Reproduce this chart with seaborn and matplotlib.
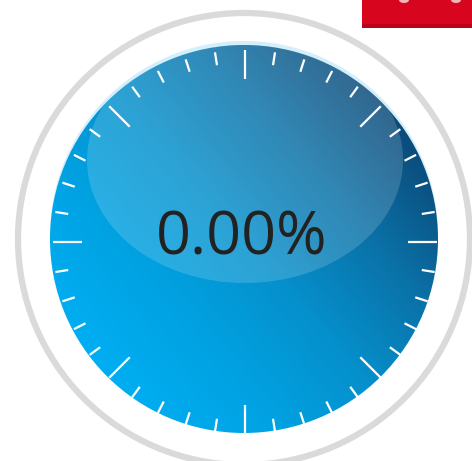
import numpy as np
import matplotlib.pyplot as plt
import seaborn as sns
from matplotlib.patches import Circle, Ellipse, Rectangle
from matplotlib.colors import LinearSegmentedColormap

sns.set_style("white")
plt.rcParams['font.family'] = ['Open Sans', 'DejaVu Sans']

# gauge data
gauge_value = [0.0]
tick_angles = list(range(0, 360, 9))   # 40 ticks round the dial
major_step = 45                         # long tick every 45 degrees
dial_colors = ["#00aef2", "#01a2e2", "#0590cc", "#0a72a8", "#0b4b7a"]

# geometry (pixel space)
cx, cy = 244, 239
r_disc = 194
r_ring = 226

fig = plt.figure(figsize=(4.72, 4.61), dpi=100)
ax = fig.add_axes([0, 0, 1, 1])

# outer grey ring
ax.add_patch(Circle((cx, cy), r_ring, fill=False, ec="#dadada", lw=4.5, zorder=1))

# light rim on top of the dial
ax.add_patch(Circle((cx, cy - 4), r_disc, fc="#d3effb", ec="none", zorder=1))

# dial with diagonal gradient (bright bottom-left, dark top-right)
disc = Circle((cx, cy), r_disc, fc="none", ec="none", zorder=2)
ax.add_patch(disc)
xs = np.linspace(cx - r_disc, cx + r_disc, 300)
ys = np.linspace(cy - r_disc, cy + r_disc, 300)
X, Y = np.meshgrid(xs, ys)
ang = np.radians(40)
t = ((X - cx) * np.cos(ang) - (Y - cy) * np.sin(ang)) / r_disc
t = np.clip((t + 1) / 2, 0, 1)
cmap = LinearSegmentedColormap.from_list("dial", dial_colors)
im = ax.imshow(t, cmap=cmap, extent=(xs[0], xs[-1], ys[-1], ys[0]),
               origin='upper', interpolation='bilinear', vmin=0, vmax=1,
               zorder=2)
im.set_clip_path(disc)

# glossy highlight
hl = Ellipse((cx + 1, 160), 316, 246, fc="white", ec="none", alpha=0.16, zorder=3)
ax.add_patch(hl)
hl.set_clip_path(disc)

# tick marks
for a in tick_angles:
    rad = np.radians(a)
    length = 29 if a % major_step == 0 else 13
    r0 = r_disc - 2
    r1 = r0 - length
    ax.plot([cx + 1 + r0 * np.cos(rad), cx + 1 + r1 * np.cos(rad)],
            [cy + 3 - r0 * np.sin(rad), cy + 3 - r1 * np.sin(rad)],
            color="white", lw=1.6, solid_capstyle='butt', zorder=4)

# value text
ax.text(cx - 2, cy - 1, f"{gauge_value[0]:.2f}%", ha='center', va='center',
        fontsize=44, color="#222222", zorder=5)

# red button peeking in at the top right
ax.add_patch(Rectangle((362, -2), 112, 30, fc="#d8051f", ec="none", zorder=5))
ax.add_patch(Rectangle((362, 24), 112, 4, fc="#b8031a", ec="none", zorder=5))
ax.add_patch(Ellipse((404, 0), 10, 6, fc="#f3b3bb", ec="none", zorder=6))
ax.add_patch(Ellipse((456, 0), 10, 6, fc="#f3b3bb", ec="none", zorder=6))

ax.set_xlim(0, 472)
ax.set_ylim(461, 0)
ax.set_aspect('equal')
ax.axis('off')

plt.savefig("out.png", dpi=100)
